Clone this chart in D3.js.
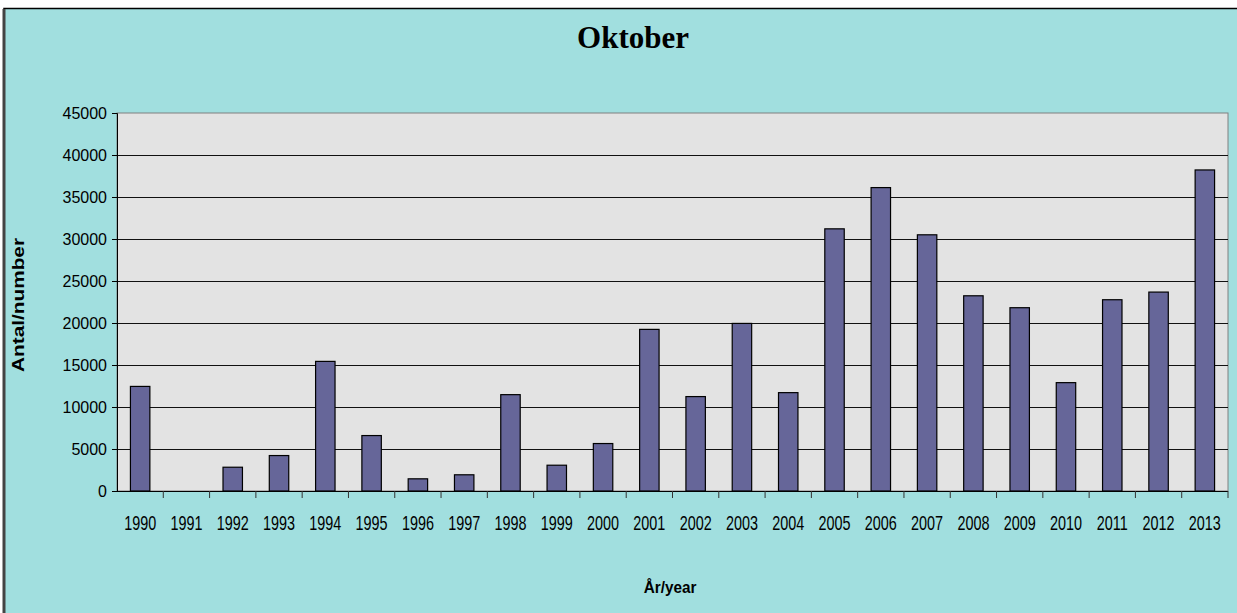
<!DOCTYPE html>
<html>
<head>
<meta charset="utf-8">
<script src="https://cdn.jsdelivr.net/npm/d3@7"></script>
<style>
  body { margin: 0; background: #fff; }
  svg text { font-family: "Liberation Sans", Arial, sans-serif; }
</style>
</head>
<body>
<script>
// data
var years = ["1990","1991","1992","1993","1994","1995","1996","1997","1998","1999","2000","2001",
             "2002","2003","2004","2005","2006","2007","2008","2009","2010","2011","2012","2013"];
var counts = [12450, 0, 2830, 4220, 15430, 6600, 1450, 1930, 11470, 3070, 5650, 19240,
              11240, 19950, 11710, 31210, 36120, 30500, 23240, 21820, 12900, 22770, 23680, 38220];
var yTicks = [0, 5000, 10000, 15000, 20000, 25000, 30000, 35000, 40000, 45000];

var W = 1237, H = 613;
var plotLeft = 117, plotRight = 1228, plotTop = 113, plotBottom = 491;

var svg = d3.select("body").append("svg")
    .attr("width", W)
    .attr("height", H);

// chart frame
svg.append("rect")
    .attr("x", 4).attr("y", 8.5)
    .attr("width", W + 10).attr("height", H + 10)
    .attr("fill", "#a1dfdf")
    .attr("stroke", "#000").attr("stroke-width", 1.5);
svg.append("line")
    .attr("x1", 4).attr("x2", 4).attr("y1", 9).attr("y2", H)
    .attr("stroke", "#444").attr("stroke-width", 3);

var x = d3.scaleBand().domain(years).range([plotLeft, plotRight]).paddingInner(0.58).paddingOuter(0.29);
var xb = d3.scaleBand().domain(years).range([plotLeft, plotRight]);
var y = d3.scaleLinear().domain([0, 45000]).range([plotBottom, plotTop]);

// plot area
svg.append("rect")
    .attr("x", plotLeft).attr("y", plotTop)
    .attr("width", plotRight - plotLeft).attr("height", plotBottom - plotTop)
    .attr("fill", "#e3e3e3")
    .attr("stroke", "#808080").attr("stroke-width", 1);

// grid
svg.append("g").selectAll("line")
    .data(yTicks.filter(function(d){ return d > 0 && d < 45000; }))
    .join("line")
    .attr("x1", plotLeft).attr("x2", plotRight)
    .attr("y1", function(d){ return Math.round(y(d)) + 0.5; })
    .attr("y2", function(d){ return Math.round(y(d)) + 0.5; })
    .attr("stroke", "#111").attr("stroke-width", 1);

// bars
svg.append("g").selectAll("rect")
    .data(counts)
    .join("rect")
    .attr("x", function(d, i){ return x(years[i]); })
    .attr("y", function(d){ return y(d); })
    .attr("width", x.bandwidth())
    .attr("height", function(d){ return plotBottom - y(d); })
    .attr("fill", "#666699")
    .attr("stroke", function(d){ return d > 0 ? "#000" : "none"; })
    .attr("stroke-width", 1.2);

// y axis
var yAxis = svg.append("g")
    .attr("transform", "translate(" + plotLeft + ",0)")
    .call(d3.axisLeft(y).tickValues(yTicks).tickSize(5).tickPadding(5).tickFormat(d3.format("d")));
yAxis.select(".domain").attr("stroke", "#000");
yAxis.selectAll(".tick line").attr("stroke", "#000");
yAxis.selectAll("text")
    .attr("font-size", 16)
    .attr("fill", "#000")
    .style("font-family", "'Liberation Sans', Arial, sans-serif");

// x axis line and ticks at band boundaries
svg.append("line")
    .attr("x1", plotLeft).attr("x2", plotRight)
    .attr("y1", plotBottom + 0.5).attr("y2", plotBottom + 0.5)
    .attr("stroke", "#000").attr("stroke-width", 1);
svg.append("g").selectAll("line")
    .data(years.slice(1).concat(["end"]))
    .join("line")
    .attr("x1", function(d){ return d === "end" ? plotRight : xb(d); })
    .attr("x2", function(d){ return d === "end" ? plotRight : xb(d); })
    .attr("y1", plotBottom).attr("y2", plotBottom + 7)
    .attr("stroke", "#333");

svg.append("g").selectAll("text")
    .data(years)
    .join("text")
    .attr("transform", function(d){
        return "translate(" + (xb(d) + xb.bandwidth() / 2) + "," + 530 + ") scale(0.72,1)";
    })
    .attr("text-anchor", "middle")
    .attr("font-size", 20)
    .attr("fill", "#000")
    .text(function(d){ return d; });

// title
svg.append("text")
    .attr("x", 633).attr("y", 48)
    .attr("text-anchor", "middle")
    .style("font-family", "'Liberation Serif', 'Times New Roman', serif")
    .attr("font-size", 31)
    .attr("font-weight", "bold")
    .text("Oktober");

// axis titles
svg.append("text")
    .attr("transform", "translate(24,305) rotate(-90) scale(1.3,1)")
    .attr("text-anchor", "middle")
    .attr("font-size", 16)
    .attr("font-weight", "bold")
    .text("Antal/number");

svg.append("text")
    .attr("transform", "translate(670,593) scale(0.9,1)")
    .attr("text-anchor", "middle")
    .attr("font-size", 17)
    .attr("font-weight", "bold")
    .text("År/year");
</script>
</body>
</html>
